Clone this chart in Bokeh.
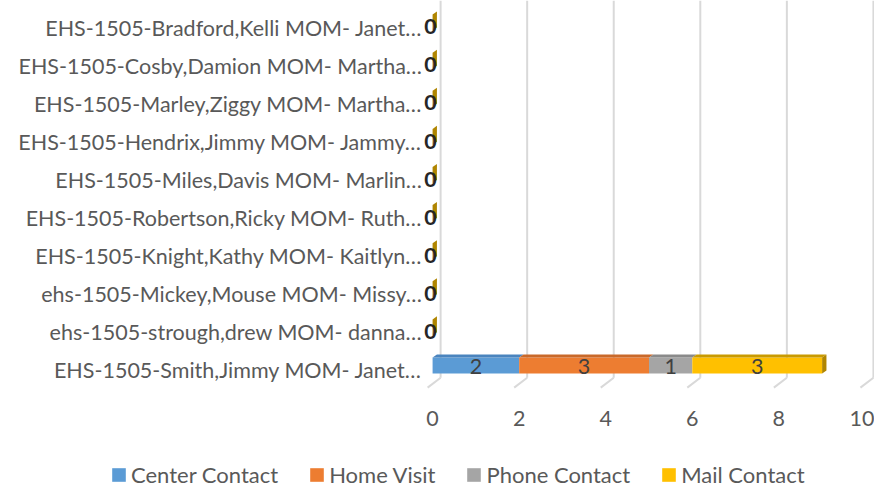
import numpy as np
from bokeh.plotting import figure
from bokeh.layouts import column
from bokeh.models import (Range1d, FixedTicker, Legend, LegendItem)
from bokeh.core.properties import value
from bokeh.embed import file_html
from bokeh.resources import INLINE

# ---- data (bottom row first) ----
categories = [
    "EHS-1505-Smith,Jimmy MOM-  Janet…",
    "ehs-1505-strough,drew MOM-  danna…",
    "ehs-1505-Mickey,Mouse MOM-  Missy…",
    "EHS-1505-Knight,Kathy MOM-  Kaitlyn…",
    "EHS-1505-Robertson,Ricky MOM-  Ruth…",
    "EHS-1505-Miles,Davis MOM-  Marlin…",
    "EHS-1505-Hendrix,Jimmy MOM-  Jammy…",
    "EHS-1505-Marley,Ziggy MOM-  Martha…",
    "EHS-1505-Cosby,Damion MOM-  Martha…",
    "EHS-1505-Bradford,Kelli MOM-  Janet…",
]
series_names = ["Center Contact", "Home Visit", "Phone Contact", "Mail Contact"]
center_contact = [2, 0, 0, 0, 0, 0, 0, 0, 0, 0]
home_visit = [3, 0, 0, 0, 0, 0, 0, 0, 0, 0]
phone_contact = [1, 0, 0, 0, 0, 0, 0, 0, 0, 0]
mail_contact = [3, 0, 0, 0, 0, 0, 0, 0, 0, 0]
x_ticks = [0, 2, 4, 6, 8, 10]

front_colors = ["#5B9BD5", "#ED7D31", "#A5A5A5", "#FFC000"]
top_colors = ["#4A84BE", "#C9692A", "#8A8A8A", "#C99A00"]
side_color = "#B08500"

FONT = "Lato"
FS = "21.5px"
TXT = "#595959"

n = len(categories)
rows = np.arange(n)
BOT, TOP = 0.42, 0.84      # bar front face within a row
DX, DY = 0.10, 0.08        # 3-D depth
LBL_Y = 0.60

p = figure(width=874, height=452, output_backend="svg", toolbar_location=None,
           x_range=Range1d(-0.21, 10.21), y_range=Range1d(0, n + 0.21),
           min_border_left=423, min_border_right=0, min_border_top=0,
           min_border_bottom=63)
p.outline_line_color = None
p.background_fill_color = "white"
p.border_fill_color = "white"
p.xgrid.visible = False
p.ygrid.visible = False
p.frame_align = False

# 3-D style gridlines (back wall + floor diagonal)
gx = np.array(x_ticks, dtype=float)
p.segment(x0=gx + 0.185, y0=0.31, x1=gx + 0.185, y1=n + 0.21, line_color="#D9D9D9", line_width=2)
p.segment(x0=gx + 0.185, y0=0.31, x1=gx - 0.115, y1=0.05, line_color="#D9D9D9", line_width=2)

# stacked bars
data = [center_contact, home_visit, phone_contact, mail_contact]
cum = np.zeros(n)
label_x, label_y, label_t = [], [], []
for name, vals, fc, tc in zip(series_names, data, front_colors, top_colors):
    vals = np.array(vals, dtype=float)
    left = cum.copy()
    right = cum + vals
    p.quad(left=left, right=right, bottom=rows + BOT, top=rows + TOP,
           fill_color=fc, line_color=None)
    xs = [[l, rr, rr + DX, l + DX] for l, rr in zip(left, right)]
    ys = [[y + TOP, y + TOP, y + TOP + DY, y + TOP + DY] for y in rows]
    p.patches(xs=xs, ys=ys, fill_color=tc, line_color=None)
    for i in range(n):
        if vals[i] > 0:
            label_x.append((left[i] + right[i]) / 2)
            label_y.append(rows[i] + LBL_Y)
            label_t.append(str(int(vals[i])))
    cum = right

# right side face of each stack
sx = [[t, t + DX, t + DX, t] for t in cum]
sy = [[y + BOT, y + BOT + DY, y + TOP + DY, y + TOP] for y in rows]
p.patches(xs=sx, ys=sy, fill_color=side_color, line_color=None)

# data labels
p.text(x=label_x, y=label_y, text=label_t, text_font=value(FONT),
       text_font_size=FS, text_color="#404040",
       text_align="center", text_baseline="middle")
zx = [-0.05 for t in cum if t == 0]
zy = [rows[i] + 0.52 for i, t in enumerate(cum) if t == 0]
zt = [str(int(t)) for t in cum if t == 0]
p.text(x=zx, y=zy, text=zt, text_font=value(FONT), text_font_size=FS,
       text_font_style="bold", text_color="#262626",
       text_align="center", text_baseline="middle")

# axes
p.xaxis.ticker = FixedTicker(ticks=x_ticks)
p.xaxis.axis_line_color = None
p.xaxis.major_tick_line_color = None
p.xaxis.minor_tick_line_color = None
p.xaxis.major_tick_out = 0
p.xaxis.major_tick_in = 0
p.xaxis.major_label_text_font = FONT
p.xaxis.major_label_text_font_size = FS
p.xaxis.major_label_text_color = TXT
p.xaxis.major_label_standoff = 21

p.yaxis.ticker = FixedTicker(ticks=list(rows + 0.5))
p.yaxis.major_label_overrides = {float(r + 0.5): c for r, c in zip(rows, categories)}
p.yaxis.axis_line_color = None
p.yaxis.major_tick_line_color = None
p.yaxis.minor_tick_line_color = None
p.yaxis.major_tick_out = 0
p.yaxis.major_tick_in = 0
p.yaxis.major_label_text_font = FONT
p.yaxis.major_label_text_font_size = FS
p.yaxis.major_label_text_color = TXT
p.yaxis.major_label_standoff = -4

# legend strip below the chart
lg = figure(width=874, height=38, output_backend="svg", toolbar_location=None,
            x_range=Range1d(0, 1), y_range=Range1d(0, 1),
            x_axis_location=None, y_axis_location=None, min_border=0)
lg.frame_align = False
lg.outline_line_color = None
lg.xgrid.visible = False
lg.ygrid.visible = False
items = []
for name, fc in zip(series_names, front_colors):
    r = lg.quad(left=[5], right=[6], bottom=[5], top=[6], fill_color=fc, line_color=None)
    items.append(LegendItem(label=name, renderers=[r]))
legend = Legend(items=items, orientation="horizontal", location=(110, 2),
                border_line_color=None, background_fill_alpha=0, padding=0, margin=0,
                glyph_width=17, glyph_height=17, label_standoff=4, spacing=30,
                label_text_font=FONT, label_text_font_size="22px",
                label_text_color=TXT)
lg.add_layout(legend, "center")

layout = column(p, lg, spacing=0)
open("out.html", "w").write(file_html(layout, INLINE))
